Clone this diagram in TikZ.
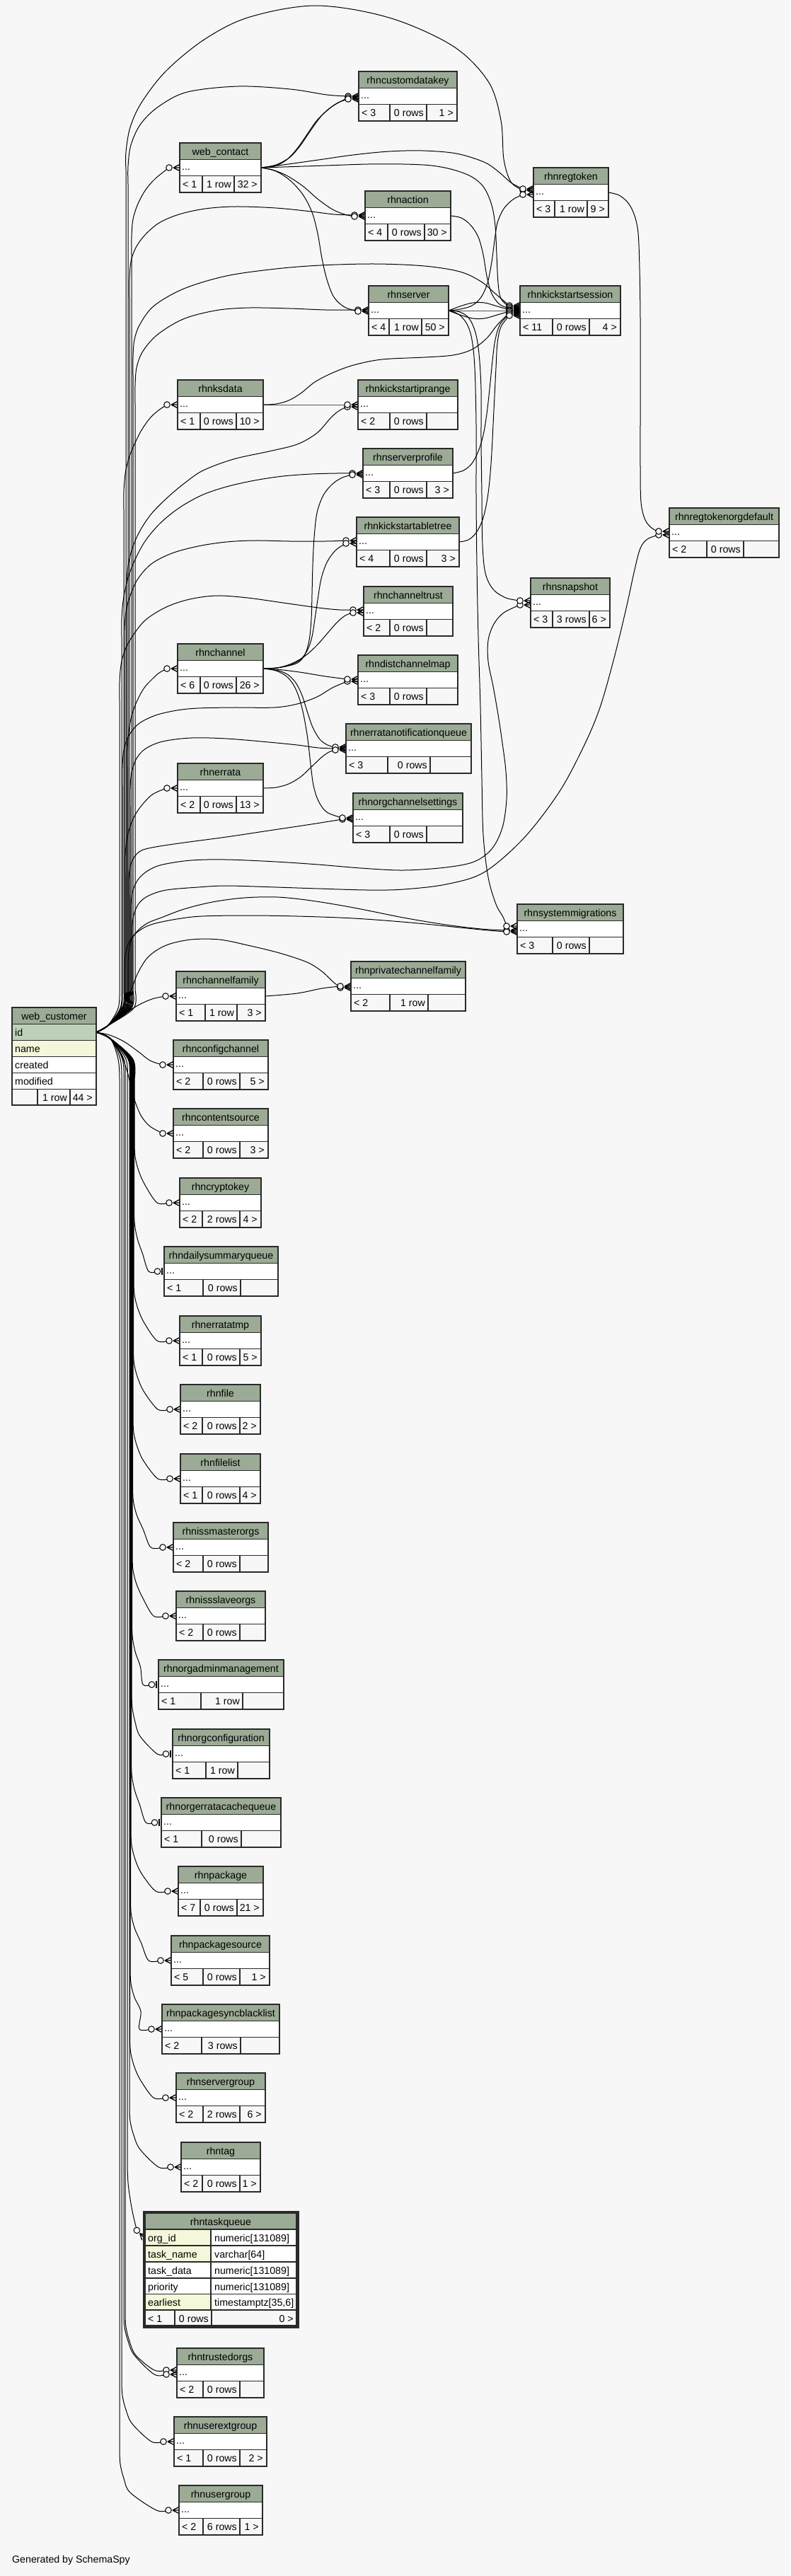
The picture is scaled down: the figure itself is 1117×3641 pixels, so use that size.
\documentclass[tikz,border=0pt]{standalone}
\usepackage{fontspec}
\setmainfont{Liberation Sans}
\pgfdeclarelayer{bgl}
\pgfdeclarelayer{edges}
\pgfsetlayers{bgl,edges,main}
\definecolor{bgc}{HTML}{F7F7F7}
\definecolor{hdrc}{HTML}{9BAB96}
\definecolor{pkc}{HTML}{BED1B8}
\definecolor{idxc}{HTML}{F4F7DA}
\definecolor{ftrc}{HTML}{F7F7F7}
\definecolor{linec}{HTML}{2A2A2A}
\newcommand\tfont{\fontsize{14.2}{17}\selectfont}
\tikzset{
 cellb/.style={draw=linec, line width=1.2pt},
 ttl/.style={font=\tfont, inner sep=0pt, anchor=base},
 lft/.style={font=\tfont, inner sep=0pt, anchor=base west},
 rgt/.style={font=\tfont, inner sep=0pt, anchor=base east},
 conn/.style={draw=black, line width=1pt},
 mk/.style={draw=black, line width=1pt, fill=bgc},
 crowmk/.pic={\draw[black,line width=1.3pt] (-9,0) -- (0,-4.6) (-9,0) -- (0,0) (-9,0) -- (0,4.6); \draw[mk] (-15,0) circle[radius=4.3];},
 onemk/.pic={\draw[black,line width=2.2pt] (-3.2,-5) -- (-3.2,5); \draw[mk] (-9.5,0) circle[radius=4.3];},
}
\newcommand\tbl[5]{%
 \def\tL{#2}\def\tT{#3}\def\tR{#4}%
 \fill[hdrc] (#2,#3) rectangle (#4,#3+23.5);
 \fill[white] (#2,#3+23.5) rectangle (#4,#3+46.5);
 \fill[ftrc] (#2,#3+46.5) rectangle (#4,#3+70);
 \draw[cellb] (#2,#3) rectangle (#4,#3+70) (#2,#3+23.5) -- (#4,#3+23.5) (#2,#3+46.5) -- (#4,#3+46.5);
 \node[ttl] (#1-t) at ({(#2+#4)/2},#3+17) {#5};
 \node[lft] (#1-d) at (#2+3,#3+38) {...};
 \coordinate (#1) at (#2,#3+35);
 \coordinate (#1-out) at (#4,#3+35);}
\newcommand\ftr[6]{%
 \draw[cellb] (#2,\tT+46.5) -- (#2,\tT+70) (#3,\tT+46.5) -- (#3,\tT+70);
 \node[lft] (#1-f1) at (\tL+4,\tT+63.5) {#4};
 \node[rgt] (#1-f2) at (#3-4,\tT+63.5) {#5};
 \node[rgt] (#1-f3) at (\tR-5,\tT+63.5) {#6};}
\newcommand\fk[3]{%
 \coordinate (pc) at ([shift={(-15,#2)}]#1);
 \coordinate (pm) at ([shift={(0,#2)}]#1);
 \draw[conn] plot[smooth,tension=.55] coordinates {#3 (pc)};
 \pic at (pm) {crowmk};}
\newcommand\wcup[5]{%
 \coordinate (pc) at ([shift={(-15,#2)}]#1);
 \coordinate (pm) at ([shift={(0,#2)}]#1);
 \draw[conn] plot[smooth,tension=.55] coordinates {(wcid) (152,1450) ({#3-2},1425) (#3,1400)} -- (#3,#4) plot[smooth,tension=.55] coordinates {(#3,#4) #5 (pc)};
 \pic at (pm) {crowmk};}
\newcommand\wclk[4]{%
 \coordinate (pq) at ([shift={(-32,#2)}]#1);
 \coordinate (pc) at ([shift={(-15,#2)}]#1);
 \coordinate (pm) at ([shift={(0,#2)}]#1);
 \draw[conn] plot[smooth,tension=.55] coordinates {(wcid) (156,1468) ({#3-2},1497) (#3,1525)} -- (#3,#4-85) plot[smooth,tension=.55] coordinates {(#3,#4-85) ({#3+1},#4-65) ({#3+6},#4-45) ({#3+15},#4-25) (pq) (pc)};
 \pic at (pm) {crowmk};}
\newcommand\wclo[4]{%
 \coordinate (pq) at ([shift={(-22,#2)}]#1);
 \coordinate (pc) at ([shift={(-9.5,#2)}]#1);
 \coordinate (pm) at ([shift={(0,#2)}]#1);
 \draw[conn] plot[smooth,tension=.55] coordinates {(wcid) (156,1468) ({#3-2},1497) (#3,1525)} -- (#3,#4-85) plot[smooth,tension=.55] coordinates {(#3,#4-85) ({#3+1},#4-65) ({#3+5},#4-45) ({#3+12},#4-25) (pq) (pc)};
 \pic at (pm) {onemk};}
\begin{document}
\begin{tikzpicture}[x=1pt,y=-1pt]
\useasboundingbox (0,0) rectangle (1117,3641);
\begin{pgfonlayer}{bgl}\fill[bgc] (0,0) rectangle (1117,3641);\end{pgfonlayer}
% ---------------- tables ----------------
\tbl{cdk}{507}{101}{646}{rhncustomdatakey}\ftr{cdk}{551}{603}{< 3}{0 rows}{1 >}
\tbl{wct}{254}{202}{369}{web\_contact}\ftr{wct}{286}{331}{< 1}{1 row}{32 >}
\tbl{rtk}{754}{237}{860}{rhnregtoken}\ftr{rtk}{784}{830}{< 3}{1 row}{9 >}
\tbl{act}{516}{270}{637}{rhnaction}\ftr{act}{548}{600}{< 4}{0 rows}{30 >}
\tbl{srv}{521}{404}{634}{rhnserver}\ftr{srv}{550}{596}{< 4}{1 row}{50 >}
\tbl{kss}{735}{404}{877}{rhnkickstartsession}\ftr{kss}{781}{833}{< 11}{0 rows}{4 >}
\tbl{ksd}{251}{537}{372}{rhnksdata}\ftr{ksd}{283}{334}{< 1}{0 rows}{10 >}
\tbl{kip}{506}{537}{647}{rhnkickstartiprange}\ftr{kip}{551}{603}{< 2}{0 rows}{}
\tbl{spf}{513}{634}{640}{rhnserverprofile}\ftr{spf}{551}{603}{< 3}{0 rows}{3 >}
\tbl{kat}{504}{731}{649}{rhnkickstartabletree}\ftr{kat}{551}{603}{< 4}{0 rows}{3 >}
\tbl{rtd}{946}{718}{1101}{rhnregtokenorgdefault}\ftr{rtd}{999}{1051}{< 2}{0 rows}{}
\tbl{snp}{750}{817}{862}{rhnsnapshot}\ftr{snp}{781}{833}{< 3}{3 rows}{6 >}
\tbl{ctr}{514}{829}{640}{rhnchanneltrust}\ftr{ctr}{551}{603}{< 2}{0 rows}{}
\tbl{chn}{251}{910}{372}{rhnchannel}\ftr{chn}{283}{334}{< 6}{0 rows}{26 >}
\tbl{dcm}{506}{926}{647}{rhndistchannelmap}\ftr{dcm}{551}{603}{< 3}{0 rows}{}
\tbl{enq}{489}{1023}{666}{rhnerratanotificationqueue}\ftr{enq}{548}{608}{< 3}{0 rows}{}
\tbl{err}{251}{1079}{372}{rhnerrata}\ftr{err}{283}{334}{< 2}{0 rows}{13 >}
\tbl{ocs}{499}{1121}{654}{rhnorgchannelsettings}\ftr{ocs}{551}{603}{< 3}{0 rows}{}
\tbl{smg}{731}{1278}{881}{rhnsystemmigrations}\ftr{smg}{781}{833}{< 3}{0 rows}{}
\tbl{pcf}{496}{1359}{658}{rhnprivatechannelfamily}\ftr{pcf}{551}{605}{< 2}{1 row}{}
\tbl{cfm}{249}{1373}{375}{rhnchannelfamily}\ftr{cfm}{290}{335}{< 1}{1 row}{3 >}
\tbl{cfg}{245}{1470}{379}{rhnconfigchannel}\ftr{cfg}{287}{339}{< 2}{0 rows}{5 >}
\tbl{cso}{245}{1567}{379}{rhncontentsource}\ftr{cso}{287}{339}{< 2}{0 rows}{3 >}
\tbl{cky}{254}{1665}{369}{rhncryptokey}\ftr{cky}{286}{339}{< 2}{2 rows}{4 >}
\tbl{dsq}{232}{1762}{393}{rhndailysummaryqueue}\ftr{dsq}{287}{340}{< 1}{0 rows}{}
\tbl{etm}{254}{1860}{369}{rhnerratatmp}\ftr{etm}{286}{339}{< 1}{0 rows}{5 >}
\tbl{fil}{255}{1957}{368}{rhnfile}\ftr{fil}{286}{339}{< 2}{0 rows}{2 >}
\tbl{fll}{255}{2055}{368}{rhnfilelist}\ftr{fll}{286}{339}{< 1}{0 rows}{4 >}
\tbl{imo}{245}{2152}{379}{rhnissmasterorgs}\ftr{imo}{287}{339}{< 2}{0 rows}{}
\tbl{iso}{249}{2249}{375}{rhnissslaveorgs}\ftr{iso}{287}{339}{< 2}{0 rows}{}
\tbl{oam}{224}{2346}{401}{rhnorgadminmanagement}\ftr{oam}{284}{343}{< 1}{1 row}{}
\tbl{ocf}{244}{2444}{381}{rhnorgconfiguration}\ftr{ocf}{291}{336}{< 1}{1 row}{}
\tbl{oec}{228}{2541}{397}{rhnorgerratacachequeue}\ftr{oec}{285}{341}{< 1}{0 rows}{}
\tbl{pkg}{252}{2638}{372}{rhnpackage}\ftr{pkg}{283}{335}{< 7}{0 rows}{21 >}
\tbl{pks}{242}{2736}{381}{rhnpackagesource}\ftr{pks}{287}{339}{< 5}{0 rows}{1 >}
\tbl{psb}{229}{2833}{395}{rhnpackagesyncblacklist}\ftr{psb}{285}{340}{< 2}{3 rows}{}
\tbl{sgp}{249}{2930}{375}{rhnservergroup}\ftr{sgp}{287}{339}{< 2}{2 rows}{6 >}
\tbl{tag}{256}{3028}{368}{rhntag}\ftr{tag}{286}{339}{< 2}{0 rows}{1 >}
\tbl{tro}{250}{3319}{373}{rhntrustedorgs}\ftr{tro}{287}{339}{< 2}{0 rows}{}
\tbl{ueg}{246}{3416}{377}{rhnuserextgroup}\ftr{ueg}{287}{339}{< 1}{0 rows}{2 >}
\tbl{ugp}{253}{3513}{371}{rhnusergroup}\ftr{ugp}{287}{339}{< 2}{6 rows}{1 >}
% web_customer
\fill[hdrc] (17,1424) rectangle (136,1447.5);
\fill[pkc] (17,1447.5) rectangle (136,1470.5);
\fill[idxc] (17,1470.5) rectangle (136,1493.5);
\fill[white] (17,1493.5) rectangle (136,1539.5);
\fill[ftrc] (17,1539.5) rectangle (136,1562);
\draw[cellb] (17,1424) rectangle (136,1562);
\draw[cellb] (17,1447.5) -- (136,1447.5) (17,1470.5) -- (136,1470.5) (17,1493.5) -- (136,1493.5) (17,1516.5) -- (136,1516.5) (17,1539.5) -- (136,1539.5) (53,1539.5) -- (53,1562) (99,1539.5) -- (99,1562);
\node[ttl] (wcu-t) at (76.5,1441) {web\_customer};
\node[lft] (wcu-id) at (21,1464) {id};
\node[lft] (wcu-name) at (21,1487) {name};
\node[lft] (wcu-cr) at (21,1510) {created};
\node[lft] (wcu-mod) at (21,1533) {modified};
\node[rgt] (wcu-f2) at (95,1556) {1 row};
\node[rgt] (wcu-f3) at (131,1556) {44 >};
\coordinate (wcid) at (136,1459);
% rhntaskqueue
\fill[hdrc] (205,3128) rectangle (419,3151);
\fill[white] (205,3151) rectangle (419,3265);
\fill[idxc] (205,3151) rectangle (298,3197);
\fill[idxc] (205,3242.5) rectangle (298,3265);
\fill[ftrc] (205,3265) rectangle (419,3287);
\draw[cellb] (205,3128) rectangle (419,3287);
\draw[cellb] (205,3151) -- (419,3151) (205,3174) -- (419,3174) (205,3197) -- (419,3197) (205,3220) -- (419,3220) (205,3242.5) -- (419,3242.5) (205,3265) -- (419,3265) (298,3151) -- (298,3265) (247,3265) -- (247,3287) (299,3265) -- (299,3287);
\draw[linec,line width=2.6pt] (202.8,3125.8) rectangle (421.2,3289.2);
\node[ttl] (tq-t) at (312,3145) {rhntaskqueue};
\node[lft] (tq-a1) at (209,3168) {org\_id};
\node[lft] (tq-b1) at (303,3168) {numeric[131089]};
\node[lft] (tq-a2) at (209,3191) {task\_name};
\node[lft] (tq-b2) at (303,3191) {varchar[64]};
\node[lft] (tq-a3) at (209,3214) {task\_data};
\node[lft] (tq-b3) at (303,3214) {numeric[131089]};
\node[lft] (tq-a4) at (209,3237) {priority};
\node[lft] (tq-b4) at (303,3237) {numeric[131089]};
\node[lft] (tq-a5) at (209,3259.5) {earliest};
\node[lft] (tq-b5) at (303,3259.5) {timestamptz[35,6]};
\node[lft] (tq-f1) at (209,3282) {< 1};
\node[rgt] (tq-f2) at (295,3282) {0 rows};
\node[rgt] (tq-f3) at (415,3282) {0 >};
\coordinate (tq) at (204,3163);
\node[lft] (gen) at (17,3622) {Generated by SchemaSpy};
% ---------------- connectors ----------------
\begin{pgfonlayer}{edges}
% web_customer -> upper tables
\wcup{rtk}{-3}{178}{240}{(178,215) (184,180) (200,145) (235,100) (290,55) (353,24) (447,8) (550,25) (640,65) (690,115) (708,170) (712,225) (722,257)}
\wcup{cdk}{0}{181}{260}{(181,235) (185,205) (199,175) (225,150) (265,130) (337,122) (410,126) (462,134)}
\wcup{wct}{0}{186}{360}{(186,335) (188,310) (195,288) (206,268) (220,252)}
\wcup{act}{-1}{183}{420}{(183,395) (185,370) (192,350) (205,332) (225,315) (253,303) (290,295) (333,292) (390,294) (440,299) (472,303)}
\wcup{kss}{-7}{188}{530}{(188,505) (190,480) (198,458) (218,432) (260,408) (320,390) (390,380) (453,375) (530,373) (600,376) (650,384) (680,398) (700,415)}
\wcup{srv}{-1}{191}{570}{(191,545) (193,520) (201,498) (219,476) (245,458) (270,447) (310,438) (353,435) (410,436) (460,438)}
\wcup{ksd}{0}{175}{720}{(175,695) (177,670) (182,648) (190,628) (200,608) (212,591) (224,580)}
\wcup{kip}{3}{179}{850}{(179,825) (181,800) (187,775) (198,750) (215,725) (238,702) (262,682) (287,665) (330,649) (380,638) (420,628) (448,612) (468,590) (480,580)}
\wcup{spf}{0}{172}{900}{(172,875) (174,850) (180,820) (190,793) (205,765) (226,740) (253,718) (285,700) (320,688) (360,679) (400,673) (440,670) (475,669)}
\wcup{kat}{-2}{176}{915}{(176,890) (178,865) (184,842) (195,818) (214,797) (243,782) (280,772) (320,766) (360,764) (410,765) (460,765)}
\wcup{ctr}{-2}{169}{990}{(169,965) (171,940) (177,918) (188,898) (206,876) (235,858) (268,847) (306,842) (350,845) (400,852) (450,859) (480,862)}
\wcup{chn}{0}{180}{1085}{(180,1060) (182,1035) (186,1012) (194,990) (204,972) (215,960) (225,951)}
\wcup{dcm}{2}{173}{1110}{(173,1085) (175,1060) (182,1040) (196,1023) (220,1011) (250,1004) (280,1001) (330,1000) (387,1000) (420,995) (448,985) (470,972)}
\wcup{enq}{0}{184}{1140}{(184,1115) (186,1092) (193,1072) (206,1058) (230,1048) (270,1043) (320,1044) (380,1049) (420,1053) (450,1057)}
\wcup{err}{0}{177}{1235}{(177,1210) (179,1188) (184,1168) (192,1150) (203,1135) (214,1124) (225,1118)}
\wcup{ocs}{2}{182}{1265}{(182,1243) (184,1225) (190,1211) (200,1202) (220,1197) (260,1191) (320,1183) (380,1174) (440,1165)}
\wcup{snp}{3}{185}{1300}{(185,1278) (188,1258) (196,1242) (210,1230) (230,1222) (270,1216) (320,1215) (390,1218) (450,1222) (510,1227) (570,1230) (630,1226) (670,1218) (695,1200) (710,1170) (716,1130) (715,1090) (710,1050) (704,1010) (697,970) (690,935) (690,905) (698,882) (712,866)}
\wcup{rtd}{3}{187}{1330}{(187,1308) (190,1290) (197,1276) (210,1266) (235,1258) (280,1254) (320,1252) (390,1254) (450,1256) (520,1258) (570,1257) (630,1250) (684,1233) (740,1185) (790,1120) (825,1055) (848,1000) (868,930) (885,860) (897,805) (905,775) (915,762)}
\wcup{smg}{2}{181}{1365}{(182,1345) (186,1328) (196,1314) (210,1304) (228,1297) (260,1285) (300,1275) (345,1269) (392,1268) (440,1273) (500,1283) (570,1297) (630,1307) (680,1313)}
\wcup{smg}{4}{176}{1372}{(177,1352) (181,1335) (190,1321) (204,1311) (220,1305) (250,1299) (285,1295) (350,1294) (420,1295) (500,1298) (580,1304) (650,1311) (690,1315)}
\fk{pcf}{2}{(wcid) (152,1450) (172,1425) (185,1400) (195,1375) (210,1352) (235,1336) (270,1328) (310,1328) (350,1336) (395,1347) (434,1360) (455,1373) (470,1387)}
\fk{cfm}{0}{(wcid) (155,1448) (175,1434) (195,1421) (215,1412)}
% web_customer -> lower tables
\fk{cfg}{0}{(wcid) (155,1463) (175,1472) (195,1486) (212,1499)}
\fk{cso}{0}{(wcid) (155,1468) (170,1488) (180,1515) (186,1540) (192,1560) (200,1578) (212,1592)}
\wclk{cky}{0}{190}{1700}
\wclo{dsq}{0}{189.5}{1797}
\wclk{etm}{0}{189}{1895}
\wclk{fil}{0}{188.5}{1992}
\wclk{fll}{0}{188}{2090}
\wclk{imo}{0}{187.5}{2187}
\wclk{iso}{0}{187}{2284}
\wclo{oam}{0}{186.5}{2381}
\wclo{ocf}{0}{186}{2479}
\wclo{oec}{0}{185.5}{2576}
\wclk{pkg}{0}{185}{2673}
\wclk{pks}{0}{184.5}{2771}
\wclk{psb}{0}{184}{2868}
\wclk{sgp}{0}{183.5}{2965}
\wclk{tag}{0}{183}{3063}
\draw[conn] plot[smooth,tension=.55] coordinates {(wcid) (156,1468) (178,1497) (180,1525)} -- (180,3060) plot[smooth,tension=.55] coordinates {(180,3060) (181,3085) (184,3108) (188,3130) (193.4,3152.4)};
\pic[rotate=-45] at (tq) {crowmk};
\wclk{tro}{-4}{177}{3354}
\wclk{tro}{2}{175}{3354}
\wclk{ueg}{0}{172}{3451}
\wclk{ugp}{0}{169}{3548}
% other connectors
\fk{cdk}{2}{(wct-out) (390,233) (410,222) (425,205) (440,183) (455,163) (470,150)}
\fk{cdk}{4}{(wct-out) (388,235) (405,226) (420,210) (434,190) (448,170) (465,154) (478,145)}
\fk{rtk}{-5}{(wct-out) (400,233) (450,226) (499,219) (550,214) (598,213) (645,217) (684,229) (705,243) (722,258)}
\fk{kss}{-5}{(wct-out) (400,236) (460,234) (520,232) (570,232) (610,234) (641,240) (667,250) (684,265) (695,290) (700,320) (702,360) (704,400) (708,422)}
\fk{act}{1}{(wct-out) (385,240) (405,248) (428,263) (450,282) (470,296) (487,303)}
\fk{srv}{1}{(wct-out) (390,242) (410,255) (428,275) (441,300) (449,330) (455,365) (462,395) (472,420) (487,434)}
\fk{kss}{-3}{(act-out) (652,308) (665,318) (676,335) (683,360) (688,390) (695,415) (706,430)}
\fk{kss}{-1}{(srv-out) (650,433) (668,428) (685,428) (703,433)}
\fk{kss}{0}{(srv-out) (680,439)}
\fk{kss}{1}{(srv-out) (650,445) (668,450) (685,450) (703,445)}
\fk{rtk}{3}{(srv-out) (650,437) (667,432) (680,420) (689,400) (695,370) (699,340) (703,315) (712,295) (725,282)}
\fk{snp}{-3}{(srv-out) (650,441) (663,450) (672,470) (677,500) (680,550) (680,620) (681,700) (682,770) (686,810) (697,833) (715,845)}
\coordinate (smgc) at ([shift={(-15,-4)}]smg);
\draw[conn] plot[smooth,tension=.55] coordinates {(srv-out) (648,444) (660,458) (667,480) (671,520) (673,600) (673,700) (674,800) (676,900) (679,1000) (681,1100) (683,1180) (690,1240) (701,1278) (711,1296) (smgc)};
\pic at ([shift={(0,-4)}]smg) {crowmk};
\fk{rtd}{-2}{(rtk-out) (875,276) (888,287) (897,305) (902,330) (904,380) (905,450) (905,520) (905,590) (905,660) (906,710) (912,735) (922,747)}
\fk{kip}{0}{(ksd-out) (430,572)}
\fk{kss}{3}{(ksd-out) (390,571) (408,566) (425,556) (445,540) (470,527) (500,516) (540,508) (600,505) (640,502) (667,494) (688,478) (703,459)}
\fk{kss}{5}{(spf-out) (655,665) (667,655) (676,638) (683,615) (688,585) (692,550) (696,510) (700,480) (707,458)}
\fk{kss}{7}{(kat-out) (662,763) (673,753) (682,735) (688,710) (692,680) (695,640) (697,600) (699,560) (701,520) (703,485) (708,462)}
\fk{spf}{2}{(chn-out) (390,944) (408,941) (422,936) (431,925) (437,905) (440,875) (441,840) (442,800) (444,760) (448,725) (457,700) (470,684) (484,675)}
\fk{kat}{2}{(chn-out) (392,944) (410,940) (425,932) (435,918) (441,900) (445,875) (449,848) (454,818) (462,795) (474,778)}
\fk{ctr}{2}{(chn-out) (392,944) (412,938) (430,928) (447,913) (462,896) (476,880) (488,870)}
\fk{dcm}{-1}{(chn-out) (400,947) (430,951) (460,956)}
\fk{enq}{-2}{(chn-out) (390,947) (406,953) (418,965) (427,983) (434,1005) (442,1028) (452,1045) (463,1053)}
\fk{ocs}{0}{(chn-out) (390,948) (405,956) (416,970) (424,990) (430,1015) (435,1045) (439,1080) (443,1110) (450,1132) (462,1148)}
\fk{enq}{2}{(err-out) (390,1113) (408,1108) (425,1098) (440,1084) (455,1070) (465,1063)}
\fk{pcf}{0}{(cfm-out) (420,1404) (455,1397)}
\end{pgfonlayer}
\end{tikzpicture}
\end{document}
